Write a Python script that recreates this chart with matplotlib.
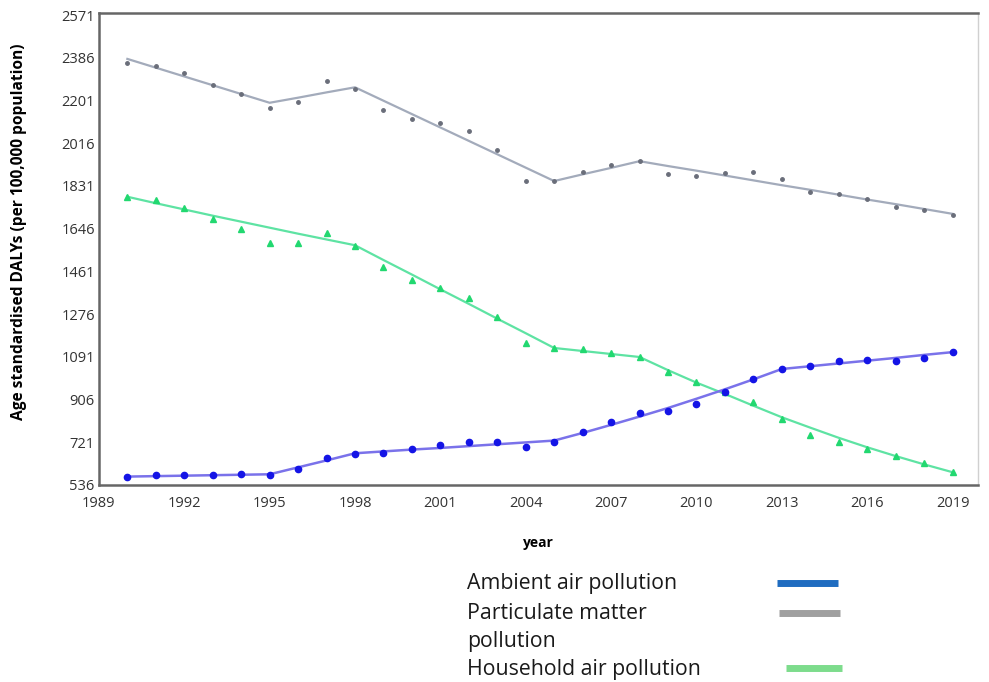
import numpy as np
import matplotlib.pyplot as plt
from matplotlib.lines import Line2D

plt.rcParams['font.family'] = ['Open Sans', 'DejaVu Sans']

years = np.arange(1990, 2020)

# observed age standardised DALY rates
ambient = [572, 578, 581, 581, 584, 581, 607, 652, 670, 676,
           692, 709, 722, 721, 698, 723, 764, 807, 848, 858,
           887, 939, 994, 1038, 1050, 1072, 1079, 1072, 1086, 1111]
particulate = [2362, 2350, 2321, 2269, 2230, 2170, 2194, 2287, 2252, 2158,
               2119, 2102, 2070, 1987, 1852, 1852, 1890, 1920, 1938, 1884,
               1874, 1887, 1891, 1861, 1803, 1797, 1776, 1741, 1725, 1706]
household = [1784, 1770, 1734, 1686, 1643, 1583, 1583, 1628, 1572, 1479,
             1424, 1388, 1344, 1262, 1150, 1128, 1124, 1109, 1089, 1024,
             983, 939, 894, 823, 752, 721, 693, 663, 633, 591]

# joinpoint trend fits
ambient_fit = [572, 574, 576, 578, 580, 582, 612, 642, 673, 681,
               689, 696, 704, 712, 720, 728, 761, 796, 832, 869,
               909, 950, 993, 1038, 1050, 1062, 1074, 1086, 1099, 1111]
particulate_fit = [2381, 2343, 2305, 2267, 2229, 2191, 2213, 2236, 2258, 2200,
                   2142, 2084, 2026, 1968, 1910, 1852, 1881, 1909, 1938, 1917,
                   1897, 1876, 1855, 1834, 1814, 1793, 1772, 1752, 1731, 1710]
household_fit = [1784, 1756, 1729, 1702, 1676, 1650, 1624, 1599, 1574, 1510,
                 1447, 1383, 1320, 1256, 1193, 1129, 1116, 1103, 1090, 1033,
                 979, 930, 879, 829, 784, 740, 699, 661, 625, 591]

yticks = [536, 721, 906, 1091, 1276, 1461, 1646, 1831, 2016, 2201, 2386, 2571]
xticks = [1989, 1992, 1995, 1998, 2001, 2004, 2007, 2010, 2013, 2016, 2019]

fig = plt.figure(figsize=(9.89, 6.82), dpi=100)
ax = fig.add_axes([0.100, 0.289, 0.889, 0.692])

ax.plot(years, particulate_fit, color='#a3abbb', lw=1.6, zorder=2)
ax.plot(years, particulate, 'o', color='#6a6e7a', ms=2.5, zorder=3)
ax.plot(years, household_fit, color='#5ee3a3', lw=1.6, zorder=2)
ax.plot(years, household, '^', color='#22d870', ms=4, zorder=3)
ax.plot(years, ambient_fit, color='#7a72ea', lw=1.8, zorder=2)
ax.plot(years, ambient, 'o', color='#1414e6', ms=4.5, zorder=3)

ax.set_xlim(1989, 2019.9)
ax.set_ylim(536, 2580)
ax.set_xticks(xticks)
ax.set_yticks(yticks)
ax.tick_params(length=0, labelsize=10.5, colors='#333333')
ax.tick_params(axis='x', pad=8)
ax.tick_params(axis='y', pad=3)

for side in ['left', 'bottom', 'top']:
    ax.spines[side].set_color('#666666')
    ax.spines[side].set_linewidth(1.8)
ax.spines['right'].set_color('#d0d0d0')
ax.spines['right'].set_linewidth(1.0)

ax.set_ylabel('Age standardised DALYs (per 100,000 population)',
              fontsize=11.2, fontweight='bold')
ax.yaxis.set_label_coords(-0.082, 0.536)
ax.set_xlabel('year', fontsize=10, fontweight='bold', labelpad=18)

# legend drawn below the plot
label_lines = ['Ambient air pollution', 'Particulate matter', 'pollution',
               'Household air pollution']
label_y = [0.145, 0.101, 0.060, 0.019]
for lab, ty in zip(label_lines, label_y):
    fig.text(0.472, ty, lab, fontsize=15.3, color='#1a1a1a', va='center')

key_colors = ['#1f6cc0', '#a0a0a0', '#7ddc8c']
key_y = [0.145, 0.101, 0.020]
key_x = [(0.786, 0.847), (0.788, 0.849), (0.795, 0.851)]
for c, ky, kx in zip(key_colors, key_y, key_x):
    fig.add_artist(Line2D(kx, [ky, ky], color=c, lw=5,
                          transform=fig.transFigure, solid_capstyle='butt'))

fig.savefig('out.png', dpi=100)
